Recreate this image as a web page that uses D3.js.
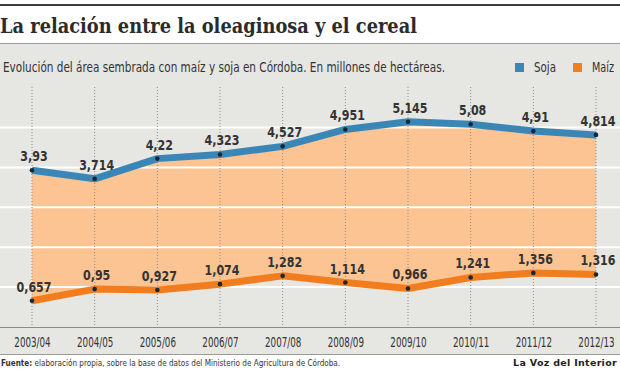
<!DOCTYPE html>
<html>
<head>
<meta charset="utf-8">
<script src="https://cdn.jsdelivr.net/npm/d3@7"></script>
<style>
  body { margin: 0; background: #fff; }
  svg { display: block; }
  .narrow { font-family: "Liberation Sans Narrow", "DejaVu Sans Condensed", sans-serif; }
</style>
</head>
<body>
<div id="chart"></div>
<script>
// campaign labels and planted area (millions of hectares)
let seasons = ["2003/04", "2004/05", "2005/06", "2006/07", "2007/08",
               "2008/09", "2009/10", "2010/11", "2011/12", "2012/13"];
let soja = [3.93, 3.714, 4.22, 4.323, 4.527, 4.951, 5.145, 5.08, 4.91, 4.814];
let maiz = [0.657, 0.95, 0.927, 1.074, 1.282, 1.114, 0.966, 1.241, 1.356, 1.316];
let gridValues = [1, 2, 3, 4, 5];

let width = 620, height = 375;

let svg = d3.select("#chart").append("svg")
  .attr("width", width).attr("height", height);

// header
svg.append("rect").attr("x", 0).attr("y", 4).attr("width", width).attr("height", 2).attr("fill", "#3b3b3b");
svg.append("text")
  .attr("x", 0).attr("y", 33)
  .attr("font-family", "'DejaVu Serif Condensed', 'DejaVu Serif', serif")
  .attr("font-weight", "bold")
  .attr("font-size", 21)
  .attr("fill", "#2b2b2b")
  .attr("textLength", 417).attr("lengthAdjust", "spacingAndGlyphs")
  .text("La relación entre la oleaginosa y el cereal");

// grey panel
svg.append("rect").attr("x", 0).attr("y", 43).attr("width", width).attr("height", 311).attr("fill", "#e6e6e3");
svg.append("line").attr("x1", 0).attr("x2", width).attr("y1", 43.5).attr("y2", 43.5).attr("stroke", "#9a9a9a");
svg.append("line").attr("x1", 0).attr("x2", width).attr("y1", 354.5).attr("y2", 354.5).attr("stroke", "#9a9a9a");

svg.append("text").attr("class", "narrow")
  .attr("x", 3).attr("y", 72)
  .attr("font-size", 13.5).attr("fill", "#333")
  .attr("textLength", 442).attr("lengthAdjust", "spacingAndGlyphs")
  .text("Evolución del área sembrada con maíz y soja en Córdoba. En millones de hectáreas.");

// legend
let legend = [{name: "Soja", color: "#3a87b7", x: 515}, {name: "Maíz", color: "#f27d1f", x: 573}];
legend.forEach(function(l) {
  svg.append("rect").attr("x", l.x).attr("y", 63).attr("width", 9).attr("height", 9).attr("fill", l.color);
  svg.append("text").attr("class", "narrow")
    .attr("x", l.x + 19).attr("y", 72)
    .attr("font-size", 13.5).attr("fill", "#333")
    .attr("textLength", 22).attr("lengthAdjust", "spacingAndGlyphs")
    .text(l.name);
});

// scales
let xScale = d3.scalePoint().domain(seasons).range([32, 596]);
let yScale = d3.scaleLinear().domain([0, 5]).range([327, 127.5]);

let rows = seasons.map(function(s, i) { return {season: s, soja: soja[i], maiz: maiz[i]}; });

// band between the two series
let area = d3.area()
  .x(function(d) { return xScale(d.season); })
  .y0(function(d) { return yScale(d.maiz); })
  .y1(function(d) { return yScale(d.soja); });

svg.append("path").datum(rows)
  .attr("d", area)
  .attr("fill", "#fcc493");

// white horizontal grid
svg.append("g").selectAll("line")
  .data(gridValues).enter().append("line")
  .attr("x1", 0).attr("x2", width)
  .attr("y1", function(v) { return yScale(v); })
  .attr("y2", function(v) { return yScale(v); })
  .attr("stroke", "#fff").attr("stroke-width", 2);

// dotted verticals
svg.append("g").selectAll("line")
  .data(seasons).enter().append("line")
  .attr("x1", function(s) { return xScale(s); })
  .attr("x2", function(s) { return xScale(s); })
  .attr("y1", 87).attr("y2", 327)
  .attr("stroke", "#8c8c8c").attr("stroke-width", 1)
  .attr("stroke-dasharray", "1,2");

// x axis
let xAxis = d3.axisBottom(xScale).tickSize(0).tickPadding(10);
let gx = svg.append("g").attr("transform", "translate(0,327)").call(xAxis);
gx.select(".domain").remove();
gx.selectAll("text")
  .attr("class", "narrow").attr("font-size", 13.5).attr("fill", "#333")
  .attr("transform", "scale(0.72,1)");
svg.append("line").attr("x1", 0).attr("x2", width).attr("y1", 327.5).attr("y2", 327.5).attr("stroke", "#8a8a8a");

function comma(v) { return String(v).replace(".", ","); }

function drawSeries(key, color) {
  let line = d3.line()
    .x(function(d) { return xScale(d.season); })
    .y(function(d) { return yScale(d[key]); });

  svg.append("path").datum(rows)
    .attr("d", line)
    .attr("fill", "none")
    .attr("stroke", color)
    .attr("stroke-width", 7)
    .attr("stroke-linejoin", "round");

  svg.append("g").selectAll("circle")
    .data(rows).enter().append("circle")
    .attr("cx", function(d) { return xScale(d.season); })
    .attr("cy", function(d) { return yScale(d[key]); })
    .attr("r", 2.3)
    .attr("fill", "#14283a");

  svg.append("g").selectAll("text")
    .data(rows).enter().append("text")
    .attr("class", "narrow")
    .attr("x", function(d) { return xScale(d.season) + 2; })
    .attr("y", function(d) { return yScale(d[key]) - 9; })
    .attr("text-anchor", "middle")
    .attr("font-size", 14).attr("font-weight", "bold")
    .attr("fill", "#333")
    .attr("transform", function(d) {
      // squeeze the condensed face a little towards the original narrow type
      let x = xScale(d.season) + 2;
      return "translate(" + x + ",0) scale(0.88,1) translate(" + (-x) + ",0)";
    })
    .text(function(d) { return comma(d[key]); });
}

drawSeries("soja", "#3a87b7");
drawSeries("maiz", "#f27d1f");

// footer
let src = svg.append("text").attr("class", "narrow")
  .attr("x", 0).attr("y", 366)
  .attr("font-size", 9.5).attr("fill", "#333")
  .attr("transform", "translate(1,0) scale(0.85,1)");
src.append("tspan").attr("font-weight", "bold").text("Fuente: ");
src.append("tspan").text("elaboración propia, sobre la base de datos del Ministerio de Agricultura de Córdoba.");

svg.append("text")
  .attr("x", 617).attr("y", 366)
  .attr("text-anchor", "end")
  .attr("font-family", "'DejaVu Sans', sans-serif")
  .attr("font-weight", "bold").attr("font-size", 9.5)
  .attr("letter-spacing", 0.3)
  .attr("fill", "#222")
  .text("La Voz del Interior");
</script>
</body>
</html>
